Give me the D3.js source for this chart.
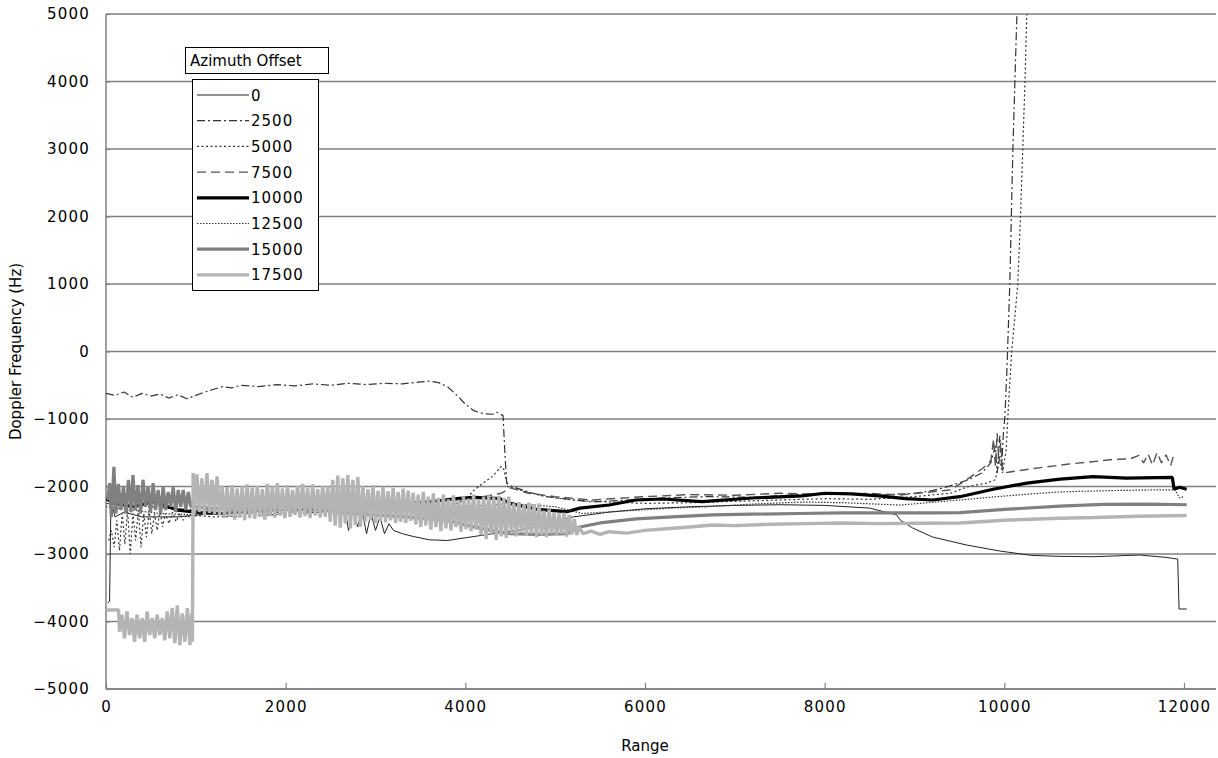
<!DOCTYPE html>
<html>
<head>
<meta charset="utf-8">
<script src="https://cdn.jsdelivr.net/npm/d3@7"></script>
<style>
  html, body { margin: 0; padding: 0; background: #fff; }
  text { font-family: "DejaVu Sans", sans-serif; font-size: 15px; fill: #000; }
  .tick text { letter-spacing: 1.2px; }
</style>
</head>
<body>
<div id="chart"></div>
<script>
// series names (legend) and tick values
var offsets = ["0", "2500", "5000", "7500", "10000", "12500", "15000", "17500"];
var xTicks = [0, 2000, 4000, 6000, 8000, 10000, 12000];
var yTicks = [-5000, -4000, -3000, -2000, -1000, 0, 1000, 2000, 3000, 4000, 5000];

// [range, doppler Hz]
var s0 = [[20,-3730],[40,-3700],[55,-2200],[100,-2450],[200,-2380],[400,-2450],[800,-2450],[1200,-2400],
  [1600,-2380],[2000,-2350],[2400,-2350],[2600,-2350],[2650,-2250],[2700,-2650],[2750,-2300],[2800,-2600],
  [2850,-2350],[2900,-2700],[2950,-2400],[3000,-2650],[3050,-2450],[3100,-2700],[3150,-2550],[3200,-2650],
  [3300,-2700],[3420,-2740],[3600,-2790],[3800,-2800],[4000,-2760],[4200,-2720],[4400,-2680],[4600,-2650],
  [4900,-2550],[5200,-2450],[5600,-2380],[6000,-2330],[6500,-2300],[7000,-2280],[7500,-2270],[8000,-2280],
  [8500,-2320],[8800,-2420],[8840,-2496],[8980,-2615],[9200,-2748],[9580,-2867],[9950,-2956],[10300,-3020],
  [10600,-3035],[11000,-3040],[11500,-3015],[11800,-3050],[11930,-3075],[11945,-3815],[12030,-3815]];

var s2500 = [[0,-620],[100,-650],[200,-600],[300,-680],[400,-620],[500,-660],[600,-630],[700,-690],
  [800,-640],[900,-700],[1000,-650],[1100,-600],[1200,-560],[1300,-520],[1400,-540],[1500,-500],[1700,-520],
  [1900,-490],[2100,-510],[2300,-480],[2500,-500],[2700,-470],[2900,-490],[3100,-470],[3300,-480],[3500,-450],
  [3600,-440],[3700,-460],[3800,-520],[3900,-640],[4000,-780],[4100,-880],[4200,-920],[4300,-930],[4350,-900],
  [4420,-950],[4440,-1500],[4460,-1950],[4520,-2000],[4700,-2080],[4900,-2150],[5100,-2180],[5400,-2230],
  [5800,-2200],[6200,-2170],[6700,-2150],[7200,-2160],[7700,-2120],[8200,-2110],[8600,-2130],[9000,-2100],
  [9200,-2060],[9400,-1990],[9600,-1900],[9750,-1800],[9850,-1650],[9900,-1400],[9920,-1800],[9950,-1250],
  [9970,-1700],[9990,-1200],[10006,-970],[10030,-230],[10061,1010],[10095,2985],[10140,5000],[10160,6000]];

var s5000 = [[30,-2800],[60,-2650],[90,-2900],[120,-2500],[150,-2950],[180,-2400],[210,-2850],[240,-2350],
  [270,-3000],[300,-2400],[330,-2800],[360,-2350],[390,-2900],[420,-2400],[450,-2750],[480,-2350],[510,-2700],
  [540,-2400],[570,-2650],[600,-2350],[630,-2600],[660,-2400],[700,-2550],[740,-2380],[780,-2520],[820,-2400],
  [860,-2500],[900,-2420],[950,-2480],[1000,-2430],[1200,-2450],[1500,-2440],[1800,-2420],[2100,-2400],
  [2400,-2380],[2700,-2350],[3000,-2330],[3300,-2300],[3600,-2280],[3900,-2250],[4000,-2200],[4100,-2050],
  [4200,-1950],[4300,-1850],[4350,-1780],[4400,-1700],[4430,-1750],[4470,-2000],[4600,-2050],[4800,-2120],
  [5000,-2170],[5200,-2200],[5600,-2230],[6000,-2250],[6500,-2240],[7000,-2220],[7500,-2200],[8000,-2180],
  [8500,-2190],[9000,-2150],[9400,-2100],[9600,-2000],[9800,-1950],[9900,-1900],[9950,-1600],[9980,-1800],
  [10020,-1460],[10050,-700],[10083,20],[10117,510],[10150,1010],[10180,2000],[10206,3030],[10230,4000],
  [10250,5000],[10270,5800]];

var s7500 = [[0,-2250],[500,-2300],[1000,-2350],[2000,-2300],[3000,-2250],[4000,-2200],[4400,-2100],
  [4500,-2020],[4700,-2100],[5000,-2150],[5400,-2200],[6000,-2150],[6500,-2120],[7000,-2130],[7500,-2100],
  [8000,-2120],[8500,-2100],[8840,-2126],[9400,-2050],[9580,-1900],[9760,-1730],[9850,-1620],[9880,-1300],
  [9900,-1700],[9920,-1210],[9940,-1650],[9960,-1350],[9985,-1800],[10060,-1785],[10400,-1720],[10700,-1670],
  [11000,-1630],[11200,-1600],[11400,-1590],[11500,-1540],[11550,-1650],[11600,-1520],[11650,-1680],
  [11700,-1500],[11750,-1650],[11800,-1530],[11850,-1690],[11880,-1560]];

var s10000 = [[0,-2180],[100,-2250],[300,-2300],[450,-2250],[550,-2220],[650,-2280],[800,-2350],
  [1000,-2380],[1300,-2400],[1600,-2350],[1800,-2320],[2100,-2330],[2400,-2320],[2700,-2300],[3000,-2280],
  [3300,-2250],[3600,-2230],[3900,-2180],[4100,-2160],[4385,-2180],[4500,-2250],[4800,-2340],[5130,-2373],
  [5276,-2320],[5600,-2274],[5900,-2200],[6200,-2185],[6637,-2225],[7194,-2170],[7750,-2140],[8000,-2100],
  [8300,-2110],[8600,-2140],[8900,-2180],[9200,-2200],[9505,-2151],[9875,-2040],[10250,-1950],[10620,-1890],
  [10990,-1855],[11360,-1875],[11870,-1865],[11890,-2040],[11950,-2010],[12030,-2040]];

var s12500 = [[0,-2300],[300,-2350],[600,-2400],[1000,-2420],[2000,-2380],[3000,-2350],[4000,-2300],
  [4500,-2250],[5000,-2300],[5300,-2400],[5800,-2360],[6300,-2320],[6700,-2300],[7200,-2260],[7750,-2230],
  [8200,-2240],[8840,-2275],[9505,-2200],[9875,-2155],[10300,-2110],[10620,-2080],[11200,-2060],
  [11700,-2050],[11900,-2050],[11950,-2170],[12000,-2150]];

var s15000 = [[20,-2200],[40,-1950],[60,-2450],[88,-1710],[110,-2400],[138,-1960],[166,-2350],[194,-2000],
  [222,-2400],[250,-1900],[278,-2380],[300,-1830],[328,-2350],[356,-1980],[384,-2400],[412,-1900],[440,-2300],
  [468,-2000],[496,-2380],[524,-1950],[552,-2350],[580,-2050],[608,-2400],[636,-2000],[664,-2350],[692,-2080],
  [720,-2300],[748,-2000],[776,-2380],[804,-2050],[832,-2300],[860,-2050],[888,-2350],[916,-2080],[944,-2300],
  [968,-2300],[1300,-2330],[1500,-2350],[1700,-2340],[2000,-2330],[2300,-2300],[2450,-2350],[2700,-2400],
  [3000,-2420],[3350,-2450],[3500,-2470],[3800,-2500],[4100,-2600],[4400,-2680],[4500,-2700],[4800,-2710],
  [5130,-2700],[5276,-2600],[5500,-2540],[5900,-2480],[6300,-2450],[6756,-2420],[7200,-2410],[7700,-2400],
  [8200,-2390],[8700,-2390],[9200,-2390],[9505,-2388],[10000,-2340],[10618,-2290],[11100,-2265],[11600,-2260],
  [12030,-2270]];

var s17500 = [[0,-3830],[140,-3830],
  [150,-4150],[178,-3900],[206,-4250],[234,-3850],[262,-4200],[290,-3950],[318,-4300],[346,-3900],[374,-4250],
  [402,-3950],[430,-4300],[458,-3850],[486,-4200],[514,-3950],[542,-4250],[570,-3900],[598,-4200],[626,-3950],
  [654,-4280],[682,-3850],[710,-4250],[738,-3800],[766,-4320],[794,-3760],[822,-4350],[850,-3880],[878,-4300],
  [906,-3800],[934,-4350],[955,-3880],[962,-4300],[970,-1800],
  [984,-2400],[1012,-1820],[1040,-2380],[1068,-1880],[1096,-2420],[1124,-1800],[1152,-2390],[1180,-1900],
  [1208,-2410],[1236,-1850],[1264,-2430],
  [1292,-1990],[1320,-2470],[1348,-2010],[1376,-2450],[1404,-1980],[1432,-2490],[1460,-2030],[1488,-2460],
  [1516,-2000],[1544,-2500],[1572,-1970],[1600,-2470],[1628,-2020],[1656,-2480],[1684,-1990],[1712,-2450],
  [1740,-2040],[1768,-2490],
  [1796,-1960],[1824,-2440],[1852,-2000],[1880,-2460],[1908,-1950],[1936,-2430],[1964,-2030],[1992,-2470],
  [2020,-1980],[2048,-2450],[2076,-2050],[2104,-2420],[2132,-1990],[2160,-2460],[2188,-1960],[2216,-2440],
  [2244,-2020],[2272,-2470],[2300,-1970],[2328,-2430],[2356,-2040],[2384,-2460],[2412,-1990],[2440,-2450],
  [2468,-2000],
  [2496,-2520],[2524,-1900],[2552,-2580],[2580,-1840],[2608,-2610],[2636,-1880],[2664,-2550],[2692,-1830],
  [2720,-2620],[2748,-1900],[2776,-2570],[2804,-1860],[2832,-2600],
  [2860,-1990],[2888,-2520],[2916,-2040],[2944,-2500],[2972,-1980],[3000,-2540],[3028,-2060],[3056,-2510],
  [3084,-2000],[3112,-2530],[3140,-2070],[3168,-2500],[3196,-2020],[3224,-2540],[3252,-2080],[3280,-2520],
  [3308,-2030],[3336,-2540],[3364,-2060],[3392,-2510],
  [3420,-2090],[3448,-2560],[3476,-2120],[3504,-2600],[3532,-2080],[3560,-2580],[3588,-2150],[3616,-2640],
  [3644,-2100],[3672,-2600],[3700,-2170],[3728,-2660],[3756,-2120],[3784,-2620],[3812,-2190],[3840,-2650],
  [3868,-2130],[3896,-2600],[3924,-2200],[3952,-2670],[3980,-2150],[4008,-2630],[4036,-2180],[4064,-2660],
  [4092,-2120],[4120,-2640],[4148,-2200],
  [4176,-2720],[4204,-2150],[4232,-2780],[4260,-2130],[4288,-2700],[4316,-2160],[4344,-2790],[4372,-2140],
  [4400,-2740],[4428,-2170],[4456,-2760],[4484,-2150],
  [4512,-2700],[4540,-2250],[4568,-2740],[4596,-2230],[4624,-2680],[4652,-2270],[4680,-2730],[4708,-2240],
  [4736,-2700],[4764,-2260],[4792,-2750],[4820,-2250],
  [4848,-2720],[4876,-2360],[4904,-2750],[4932,-2340],[4960,-2700],[4988,-2380],[5016,-2730],[5044,-2400],
  [5072,-2700],[5100,-2390],[5128,-2740],[5156,-2420],[5184,-2710],[5212,-2480],[5240,-2720],[5268,-2600],
  [5310,-2700],[5400,-2660],[5500,-2710],[5600,-2670],[5800,-2690],[6000,-2650],[6200,-2630],[6500,-2600],
  [6756,-2570],[7000,-2580],[7400,-2560],[7800,-2550],[8200,-2540],[8600,-2550],[9000,-2545],[9505,-2540],
  [10000,-2500],[10618,-2470],[11000,-2460],[11500,-2440],[12030,-2430]];

var seriesData = [s0, s2500, s5000, s7500, s10000, s12500, s15000, s17500];

// line looks per series
var strokes = ["#222", "#333", "#333", "#555", "#000", "#333", "#808080", "#b4b4b4"];
var widths  = [1, 1.2, 1.2, 1.4, 3.2, 1.2, 3.2, 3.4];
var dashes  = [null, "8,3,2,3", "2,2.5", "9,5", null, "1.5,1.5", null, null];

var W = 1218, H = 758;
var plotLeft = 106, plotRight = 1216, plotTop = 14, plotBottom = 689;

var svg = d3.select("#chart").append("svg")
  .attr("width", W)
  .attr("height", H);

var x = d3.scaleLinear().domain([0, 12000]).range([plotLeft, 1184]);
var y = d3.scaleLinear().domain([-5000, 5000]).range([plotBottom, plotTop]);

svg.append("defs").append("clipPath").attr("id", "plot")
  .append("rect")
  .attr("x", plotLeft).attr("y", plotTop)
  .attr("width", plotRight - plotLeft).attr("height", plotBottom - plotTop);

// horizontal gridlines
svg.append("g").selectAll("line")
  .data(yTicks)
  .enter().append("line")
  .attr("x1", plotLeft).attr("x2", plotRight)
  .attr("y1", function(d) { return y(d); })
  .attr("y2", function(d) { return y(d); })
  .attr("stroke", "#808080")
  .attr("stroke-width", 1.5);

// axes
var xAxis = d3.axisBottom(x).tickValues(xTicks).tickSizeInner(-6).tickSizeOuter(0).tickPadding(12)
  .tickFormat(d3.format("d"));
var yAxis = d3.axisLeft(y).tickValues(yTicks).tickSizeInner(-4).tickSizeOuter(0).tickPadding(16)
  .tickFormat(d3.format("d"));

var gx = svg.append("g").attr("transform", "translate(0," + plotBottom + ")").call(xAxis);
var gy = svg.append("g").attr("transform", "translate(" + plotLeft + ",0)").call(yAxis);
gx.select(".domain").remove();
gy.select(".domain").remove();
svg.selectAll(".tick line").attr("stroke", "#808080").attr("stroke-width", 1.2);
svg.selectAll(".tick text").attr("font-family", "DejaVu Sans").attr("font-size", 15).attr("fill", "#000");

svg.append("line")
  .attr("x1", plotLeft).attr("x2", plotLeft).attr("y1", plotTop).attr("y2", plotBottom)
  .attr("stroke", "#808080").attr("stroke-width", 1.5);
svg.append("line")
  .attr("x1", plotLeft).attr("x2", plotRight).attr("y1", plotBottom).attr("y2", plotBottom)
  .attr("stroke", "#808080").attr("stroke-width", 1.5);

// axis titles
svg.append("text")
  .attr("x", x(6000)).attr("y", 751)
  .attr("text-anchor", "middle")
  .text("Range");
svg.append("text")
  .attr("transform", "translate(21," + y(0) + ") rotate(-90)")
  .attr("text-anchor", "middle")
  .text("Doppler Frequency (Hz)");

// data lines
var line = d3.line()
  .x(function(d) { return x(d[0]); })
  .y(function(d) { return y(d[1]); });

svg.append("g").attr("clip-path", "url(#plot)")
  .selectAll("path")
  .data(seriesData)
  .enter().append("path")
  .attr("d", line)
  .attr("fill", "none")
  .attr("stroke", function(d, i) { return strokes[i]; })
  .attr("stroke-width", function(d, i) { return widths[i]; })
  .attr("stroke-dasharray", function(d, i) { return dashes[i]; })
  .attr("stroke-linejoin", "bevel");

// legend
var legend = svg.append("g");
legend.append("rect")
  .attr("x", 192.5).attr("y", 79.5).attr("width", 126).attr("height", 211)
  .attr("fill", "#fff").attr("stroke", "#000").attr("stroke-width", 1);
legend.append("rect")
  .attr("x", 185.5).attr("y", 47.5).attr("width", 143).attr("height", 26)
  .attr("fill", "#fff").attr("stroke", "#000").attr("stroke-width", 1);
legend.append("text")
  .attr("x", 190).attr("y", 66)
  .text("Azimuth Offset");

var item = legend.selectAll("g.item")
  .data(offsets)
  .enter().append("g")
  .attr("class", "item")
  .attr("transform", function(d, i) { return "translate(0," + (95 + i * 25.7) + ")"; });

item.append("line")
  .attr("x1", 197).attr("x2", 249).attr("y1", 0).attr("y2", 0)
  .attr("stroke", function(d, i) { return strokes[i]; })
  .attr("stroke-width", function(d, i) { return widths[i]; })
  .attr("stroke-dasharray", function(d, i) { return dashes[i]; });

item.append("text")
  .attr("x", 251).attr("y", 5.5)
  .attr("letter-spacing", 1)
  .text(function(d) { return d; });
</script>
</body>
</html>
